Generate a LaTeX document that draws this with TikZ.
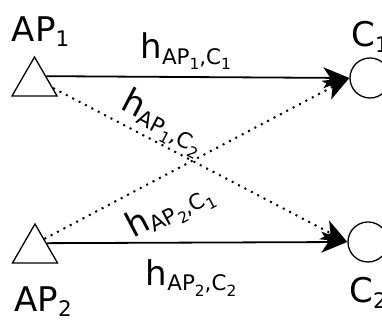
\documentclass[tikz,border=0pt]{standalone}
\usepackage{fontspec}
\setmainfont{DejaVu Sans}
\usetikzlibrary{arrows.meta,positioning,shapes.geometric}

\makeatletter
\newcommand\subtxt[2][0.16]{\raisebox{-#1em}{\fontsize{\strip@pt\dimexpr 0.63\dimexpr\f@size pt\relax\relax}{0}\selectfont #2}}
\newcommand\subsubtxt[1]{\raisebox{-0.25em}{\fontsize{\strip@pt\dimexpr 0.72\dimexpr\f@size pt\relax\relax}{0}\selectfont #1}}
\makeatother

\begin{document}
\begin{tikzpicture}[x=0.5pt,y=-0.5pt,
                    >={Stealth[length=13pt,width=10.5pt,inset=3.5pt]},
                    font=\fontsize{17}{20}\selectfont]
  \tikzstyle{ap}=[draw,regular polygon,regular polygon sides=3,
                  minimum size=26pt,inner sep=0pt,line width=0.65pt]
  \tikzstyle{client}=[draw,circle,minimum size=20pt,inner sep=0pt,line width=0.65pt]
  \tikzstyle{link}=[->,line width=0.9pt]
  \tikzstyle{cross}=[->,line width=1pt,dash pattern=on 1pt off 2.6pt]

  \useasboundingbox (0,0) rectangle (382,325);
  \clip (0,0) rectangle (382,325);

  \node[ap]     (AP1) at (34.5,83) {};
  \node[ap]     (AP2) at (35,250)  {};
  \node[client] (C1)  at (370,78)  {};
  \node[client] (C2)  at (368,242) {};

  \node (AP1lbl) [above=1pt of AP1, xshift=3pt] {AP\subtxt{1}};
  \node (AP2lbl) [below=8pt of AP2, xshift=4pt] {AP\subtxt{2}};
  \node (C1lbl)  [above=-1pt of C1] {C\subtxt{1}};
  \node (C2lbl)  [below=4pt of C2] {C\subtxt{2}};

  \draw[link] (AP1.side 3) -- node[pos=0.46,above] {h\subtxt{AP\subsubtxt{1},C\subsubtxt{1}}} (C1.west);
  \draw[link] (AP2.side 3) -- node[pos=0.48,below,inner sep=8pt] {h\subtxt{AP\subsubtxt{2},C\subsubtxt{2}}} (C2.west);
  \draw[cross] (AP1.-15) -- node[pos=0.34,sloped,above,inner sep=0.5pt] {h\subtxt{AP\subsubtxt{1},C\subsubtxt{2}}} (C2.west);
  \draw[cross] (AP2.50) -- node[pos=0.36,sloped,below,inner sep=7pt] {h\subtxt{AP\subsubtxt{2},C\subsubtxt{1}}} (C1.west);
\end{tikzpicture}
\end{document}
